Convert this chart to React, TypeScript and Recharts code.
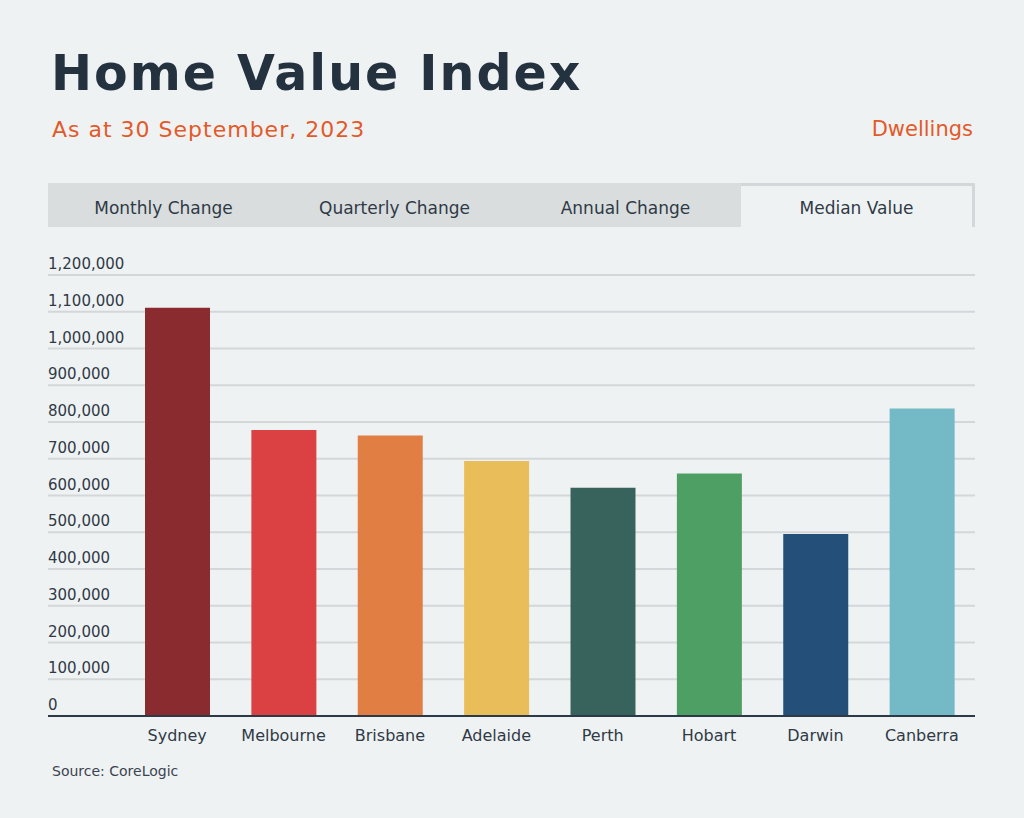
import { Bar, BarChart, CartesianGrid, Cell, XAxis, YAxis } from "recharts";

const cities = ["Sydney", "Melbourne", "Brisbane", "Adelaide", "Perth", "Hobart", "Darwin", "Canberra"];
const medianValues = [1111000, 778000, 763000, 694000, 621000, 660000, 495000, 837000];
const barColors = ["#8A2C2F", "#DB4043", "#E07E44", "#E9BD5A", "#38625C", "#4E9F63", "#234F78", "#74B9C6"];
const yTicks = [0, 100000, 200000, 300000, 400000, 500000, 600000, 700000, 800000, 900000, 1000000, 1100000, 1200000];
const tabs = ["Monthly Change", "Quarterly Change", "Annual Change", "Median Value"];
const activeTab = "Median Value";

const data = cities.map((city, i) => ({ city, value: medianValues[i] }));

const FONT = "'DejaVu Sans', Inter, sans-serif";
const INK = "#243240";
const TEXT = "#2f3a46";
const ORANGE = "#E35A2A";

const YTick = ({ y, payload }: any) => (
  <text x={48} y={y - 6} fill={TEXT} fontSize={15} fontFamily={FONT} textAnchor="start">
    {payload.value.toLocaleString("en-US")}
  </text>
);

const XTick = ({ x, y, payload }: any) => (
  <text x={x} y={y + 17} fill={TEXT} fontSize={16} fontFamily={FONT} textAnchor="middle">
    {payload.value}
  </text>
);

export default function App() {
  return (
    <div
      style={{
        position: "absolute",
        left: 0,
        top: 0,
        width: 1024,
        height: 818,
        background: "#EFF2F3",
        fontFamily: FONT,
        overflow: "hidden",
      }}
    >
      <div
        style={{
          position: "absolute",
          left: 51,
          top: 46,
          fontSize: 49,
          fontWeight: 700,
          color: INK,
          lineHeight: "56px",
          letterSpacing: 2,
          whiteSpace: "nowrap",
        }}
      >
        Home Value Index
      </div>
      <div
        style={{
          position: "absolute",
          left: 52,
          top: 116,
          fontSize: 22,
          color: ORANGE,
          lineHeight: "28px",
          letterSpacing: 1,
          whiteSpace: "nowrap",
        }}
      >
        As at 30 September, 2023
      </div>
      <div style={{ position: "absolute", right: 51, top: 115, fontSize: 21, color: ORANGE, lineHeight: "28px" }}>
        Dwellings
      </div>

      <div
        style={{
          position: "absolute",
          left: 48,
          top: 183,
          width: 927,
          height: 44,
          background: "#D9DDDE",
          display: "flex",
        }}
      >
        {tabs.map((t) => {
          const active = t === activeTab;
          return (
            <div
              key={t}
              style={{
                flex: 1,
                display: "flex",
                alignItems: "center",
                justifyContent: "center",
                paddingTop: active ? 2 : 5,
                fontSize: 17,
                color: TEXT,
                background: active ? "#EFF2F3" : "transparent",
                borderTop: active ? "3px solid #D3D7D9" : "none",
                borderRight: active ? "3px solid #D3D7D9" : "none",
                borderTopRightRadius: active ? 4 : 0,
                boxSizing: "border-box",
              }}
            >
              {t}
            </div>
          );
        })}
      </div>

      <div style={{ position: "absolute", left: 0, top: 240 }}>
        <BarChart
          width={1024}
          height={520}
          data={data}
          margin={{ top: 35, right: 49, left: 0, bottom: 0 }}
          barSize={65}
        >
          <CartesianGrid vertical={false} stroke="#D3D7D9" strokeWidth={2} />
          <XAxis
            dataKey="city"
            padding={{ left: 76, right: 0 }}
            tickLine={false}
            axisLine={{ stroke: "#2c3a47", strokeWidth: 2 }}
            tick={<XTick />}
            height={44}
            interval={0}
          />
          <YAxis
            domain={[0, 1200000]}
            ticks={yTicks}
            width={48}
            axisLine={false}
            tickLine={false}
            tick={<YTick />}
            interval={0}
          />
          <Bar dataKey="value" isAnimationActive={false}>
            {data.map((d, i) => (
              <Cell key={d.city} fill={barColors[i]} />
            ))}
          </Bar>
        </BarChart>
      </div>

      <div style={{ position: "absolute", left: 52, top: 763, fontSize: 14, color: "#3a4450" }}>Source: CoreLogic</div>
    </div>
  );
}
